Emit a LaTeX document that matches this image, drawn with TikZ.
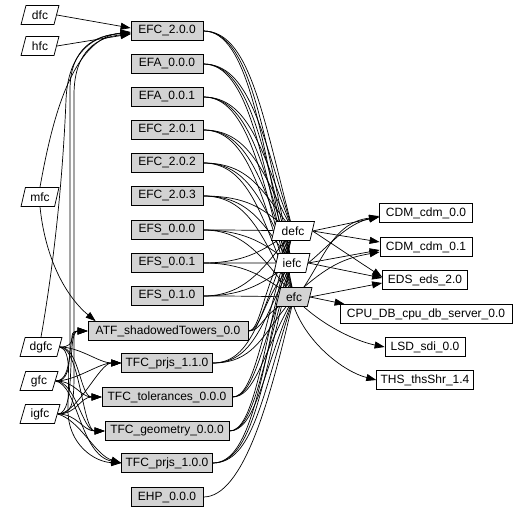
\documentclass[tikz,border=0pt]{standalone}
\usepackage{fontspec}
\setmainfont{Liberation Sans}
\usetikzlibrary{shapes.geometric,arrows.meta,backgrounds}
\definecolor{gv}{RGB}{211,211,211}
\tikzset{
 base/.style={font=\fontsize{12}{14}\selectfont, draw=black, line width=0.75pt, minimum height=19pt, inner ysep=1pt, inner xsep=4pt},
 gbox/.style={base, rectangle, fill=gv, minimum width=72pt},
 wbox/.style={base, rectangle, fill=white},
 para/.style={base, trapezium, trapezium left angle=72, trapezium right angle=108, trapezium stretches=true, fill=white, minimum width=38pt, inner xsep=2pt},
 gpara/.style={para, fill=gv},
 edge/.style={draw=black, line width=0.7pt},
 arr/.style={edge, -{Triangle[length=10pt,width=7pt]}},
}
\begin{document}
\begin{tikzpicture}[x=1pt,y=-1pt]
\useasboundingbox (0,0) rectangle (527,513);
% left interfaces
\node[para] (dfc) at (40,15) {dfc};
\node[para] (hfc) at (40,46) {hfc};
\node[para] (mfc) at (40,197) {mfc};
\node[para, minimum width=42pt] (dgfc) at (41,347) {dgfc};
\node[para] (gfc) at (39,381) {gfc};
\node[para, minimum width=40pt] (igfc) at (40,414) {igfc};
% components
\node[gbox] (c200) at (167,31) {EFC\_2.0.0};
\node[gbox] (a000) at (167,64) {EFA\_0.0.0};
\node[gbox] (a001) at (167,97) {EFA\_0.0.1};
\node[gbox] (c201) at (167,130) {EFC\_2.0.1};
\node[gbox] (c202) at (167,163) {EFC\_2.0.2};
\node[gbox] (c203) at (167,196) {EFC\_2.0.3};
\node[gbox] (s000) at (167,230) {EFS\_0.0.0};
\node[gbox] (s001) at (167,263) {EFS\_0.0.1};
\node[gbox] (s010) at (167,296) {EFS\_0.1.0};
\node[gbox, minimum width=160pt] (atf) at (168,331) {ATF\_shadowedTowers\_0.0};
\node[gbox, minimum width=90pt] (p110) at (167,363) {TFC\_prjs\_1.1.0};
\node[gbox, minimum width=130pt] (tol) at (167,397) {TFC\_tolerances\_0.0.0};
\node[gbox, minimum width=124pt] (geo) at (167,431) {TFC\_geometry\_0.0.0};
\node[gbox, minimum width=90pt] (p100) at (167,463) {TFC\_prjs\_1.0.0};
\node[gbox] (ehp) at (167,497) {EHP\_0.0.0};
% middle interfaces
\node[para, minimum width=43pt] (defc) at (293,231) {defc};
\node[para, minimum width=36pt] (iefc) at (292,263) {iefc};
\node[gpara, minimum width=36pt] (efc) at (294,297) {efc};
% right components
\node[wbox, minimum width=93pt] (cdm0) at (426,213) {CDM\_cdm\_0.0};
\node[wbox, minimum width=92pt] (cdm1) at (426,247) {CDM\_cdm\_0.1};
\node[wbox, minimum width=85pt] (eds) at (425,280) {EDS\_eds\_2.0};
\node[wbox, minimum width=172pt] (cpu) at (426,314) {CPU\_DB\_cpu\_db\_server\_0.0};
\node[wbox, minimum width=80pt] (lsd) at (425,347) {LSD\_sdi\_0.0};
\node[wbox, minimum width=96pt] (ths) at (425,380) {THS\_thsShr\_1.4};

\begin{scope}[on background layer]
% components to middle interfaces
\foreach \b/\yb/\o in {c200/31/45, a000/64/45, a001/97/45, c201/130/45, c202/163/45, c203/196/45, s000/230/40, s001/263/40, s010/296/40, atf/331/12, p110/363/40, tol/397/22, geo/431/25, p100/463/40}{
  \foreach \t/\yt in {defc/231, iefc/263, efc/297}{
    \pgfmathsetmacro\cy{\yt+0.6*(\yb-\yt)}
    \draw[edge] (\b.east) .. controls +(\o,0) and (262,\cy) .. (\t);
  }
}
\draw[edge] (ehp.east) .. controls +(40,0) and (270,400) .. (efc);
% left side
\draw[arr] (dfc.east) -- ([yshift=3pt]c200.west);
\draw[arr] (hfc.east) -- ([yshift=-3pt]c200.west);
\draw[arr] (mfc.north) .. controls (52,120) and (72,38) .. ([yshift=-1pt]c200.west);
\draw[arr] (mfc.south) .. controls (46,265) and (70,300) .. ([xshift=8pt]atf.north west);
\draw[arr] (dgfc.north) .. controls (58,240) and (64,150) .. (66,100) .. controls (68,50) and (95,35) .. ([yshift=-2pt]c200.west);
\draw[arr] (gfc.east) .. controls +(12,0) and +(0,30) .. (70,340) -- (70,90) .. controls (70,48) and (95,35) .. ([yshift=-2pt]c200.west);
\draw[arr] (igfc.east) .. controls +(14,0) and +(0,30) .. (74,375) -- (74,95) .. controls (74,50) and (98,37) .. ([yshift=-3pt]c200.west);
\foreach \s in {dgfc,gfc,igfc}{
  \foreach \t in {atf,p110,tol,geo}{
    \draw[arr] (\s.east) .. controls +(20,0) and +(-22,0) .. (\t.west);
  }
}
\draw[arr] (dgfc.east) .. controls (72,350) and (68,380) .. (68,410) .. controls (68,445) and (95,462) .. (p100.west);
\draw[arr] (gfc.east) .. controls (78,385) and (80,455) .. (p100.west);
\draw[arr] (igfc.east) .. controls (80,420) and (95,455) .. (p100.west);
% right side
\draw[arr] (defc.east) -- ([yshift=-4pt]cdm0.west);
\draw[arr] (defc.east) -- ([yshift=5pt]cdm1.west);
\draw[arr] (defc.east) -- ([yshift=3pt]eds.west);
\draw[arr] (iefc.east) .. controls (330,245) and (345,225) .. ([yshift=-3pt]cdm0.west);
\draw[arr] (iefc.east) -- ([yshift=-3pt]cdm1.west);
\draw[arr] (iefc.east) -- ([yshift=2pt]eds.west);
\draw[arr] (efc.north east) .. controls (325,255) and (335,222) .. ([yshift=-4pt]cdm0.west);
\draw[arr] (efc.north east) .. controls (330,265) and (345,258) .. ([yshift=-5pt]cdm1.west);
\draw[arr] (efc.east) -- ([yshift=-3pt]eds.west);
\draw[arr] (efc.east) -- ([xshift=5pt]cpu.north west);
\draw[arr] (efc.south east) .. controls (330,330) and (360,342) .. (lsd.west);
\draw[arr] (efc.south) .. controls (308,345) and (345,372) .. (ths.west);
\end{scope}
\end{tikzpicture}
\end{document}
